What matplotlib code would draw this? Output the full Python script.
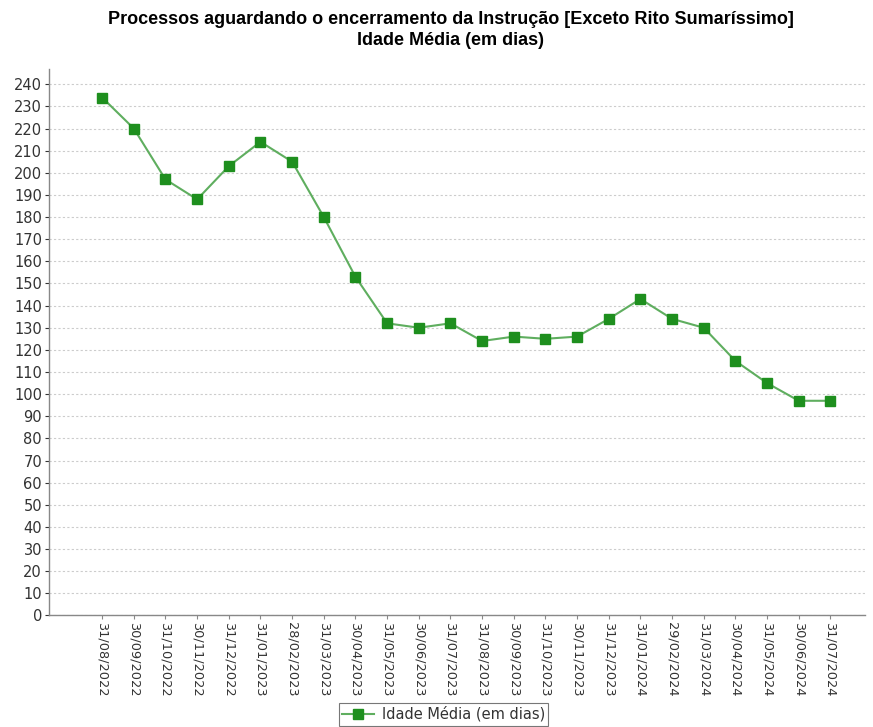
import matplotlib
matplotlib.use("Agg")
import matplotlib.pyplot as plt
from matplotlib.ticker import MultipleLocator

dates = ["31/08/2022", "30/09/2022", "31/10/2022", "30/11/2022", "31/12/2022",
         "31/01/2023", "28/02/2023", "31/03/2023", "30/04/2023", "31/05/2023",
         "30/06/2023", "31/07/2023", "31/08/2023", "30/09/2023", "31/10/2023",
         "30/11/2023", "31/12/2023", "31/01/2024", "29/02/2024", "31/03/2024",
         "30/04/2024", "31/05/2024", "30/06/2024", "31/07/2024"]
idade_media = [234, 220, 197, 188, 203, 214, 205, 180, 153, 132, 130, 132,
               124, 126, 125, 126, 134, 143, 134, 130, 115, 105, 97, 97]
series_label = "Idade Média (em dias)"
title = "Processos aguardando o encerramento da Instrução [Exceto Rito Sumaríssimo]\nIdade Média (em dias)"

plt.rcParams['font.family'] = ['DejaVu Sans']

fig = plt.figure(figsize=(8.73, 7.27), dpi=100)
ax = fig.add_axes([0.0561, 0.1534, 0.935, 0.752])

x = list(range(len(dates)))
ax.plot(x, idade_media, color="#5fae5f", linewidth=1.5, marker="s",
        markersize=7.5, markerfacecolor="#1e8f1e", markeredgecolor="#1e8f1e",
        label=series_label, zorder=3)

ax.set_xlim(-1.68, 24.1)
ax.set_ylim(0, 247)
ax.yaxis.set_major_locator(MultipleLocator(10))
ax.set_xticks(x)
ax.set_xticklabels(dates, rotation=270, fontsize=9.3, color="#333333")
ax.tick_params(axis="y", labelsize=10.5, colors="#333333", length=3, width=0.8, pad=2)
ax.tick_params(axis="x", length=3, width=0.8, colors="#888888", labelcolor="#333333", pad=2)

ax.grid(axis="y", color="#cccccc", linestyle=(0, (2, 2)), linewidth=0.8)
ax.set_axisbelow(True)
for s in ["top", "right"]:
    ax.spines[s].set_visible(False)
for s in ["left", "bottom"]:
    ax.spines[s].set_color("#888888")
    ax.spines[s].set_linewidth(1.0)

fig.text(0.516, 0.985, title, ha="center", va="top", fontsize=13,
         fontweight="bold", family="Liberation Sans", linespacing=1.3)

leg = fig.legend(loc="lower center", bbox_to_anchor=(0.508, 0.0), ncol=1,
                 fontsize=10.5, frameon=True, fancybox=False, borderpad=0.25,
                 handlelength=2.2, handletextpad=0.5, borderaxespad=0.1)
leg.get_frame().set_edgecolor("#555555")
leg.get_frame().set_linewidth(0.8)
for t in leg.get_texts():
    t.set_color("#333333")

fig.savefig("out.png", dpi=100)
